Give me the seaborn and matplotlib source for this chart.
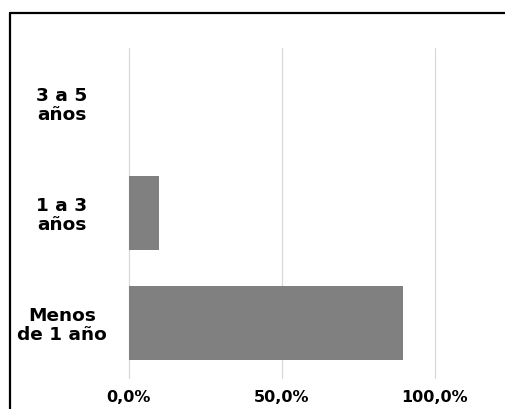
import matplotlib
matplotlib.use("Agg")
import matplotlib.pyplot as plt
from matplotlib.lines import Line2D
from matplotlib.ticker import FixedLocator
import seaborn as sns
import pandas as pd

categories = ["3 a 5\naños", "1 a 3\naños", "Menos\nde 1 año"]
values = [0.0, 0.099, 0.897]
x_ticks = [0.0, 0.5, 1.0]
x_tick_labels = ["0,0%", "50,0%", "100,0%"]

sns.set_theme(style="white")
plt.rcParams["font.family"] = ["DejaVu Sans"]

df = pd.DataFrame({"cat": categories, "val": values})

fig = plt.figure(figsize=(5.05, 4.09), dpi=100)
ax = fig.add_axes([0.2545, 0.0758, 0.6063, 0.8068])

sns.barplot(data=df, x="val", y="cat", order=categories, color="#808080",
            saturation=1, width=0.67, ax=ax, linewidth=0)

ax.set_xlim(0, 1.0)
ax.set_ylim(2.5, -0.5)
ax.xaxis.set_major_locator(FixedLocator(x_ticks))
ax.set_xticklabels(x_tick_labels, fontsize=11.5, fontweight="bold", color="black")
ax.grid(axis="x", color="#d9d9d9", linewidth=0.9)
for gl in ax.get_xgridlines():
    gl.set_clip_on(False)
ax.set_axisbelow(True)
for s in ax.spines.values():
    s.set_visible(False)
ax.set_xlabel("")
ax.set_ylabel("")
ax.tick_params(axis="y", length=0, pad=48)
ax.tick_params(axis="x", length=0, pad=9)
for lab in ax.get_yticklabels():
    lab.set_ha("center")
    lab.set_multialignment("center")
    lab.set_fontsize(13.3)
    lab.set_fontweight("bold")
    lab.set_color("black")
    lab.set_linespacing(1.1)

# figure frame (top and left edges visible in reference)
fig.add_artist(Line2D([9.5 / 505, 1.0], [1 - 12.5 / 409, 1 - 12.5 / 409],
                      transform=fig.transFigure, color="black", linewidth=1.6))
fig.add_artist(Line2D([9.5 / 505, 9.5 / 505], [0.0, 1 - 12.5 / 409],
                      transform=fig.transFigure, color="black", linewidth=1.6))

fig.savefig("out.png", dpi=100)
